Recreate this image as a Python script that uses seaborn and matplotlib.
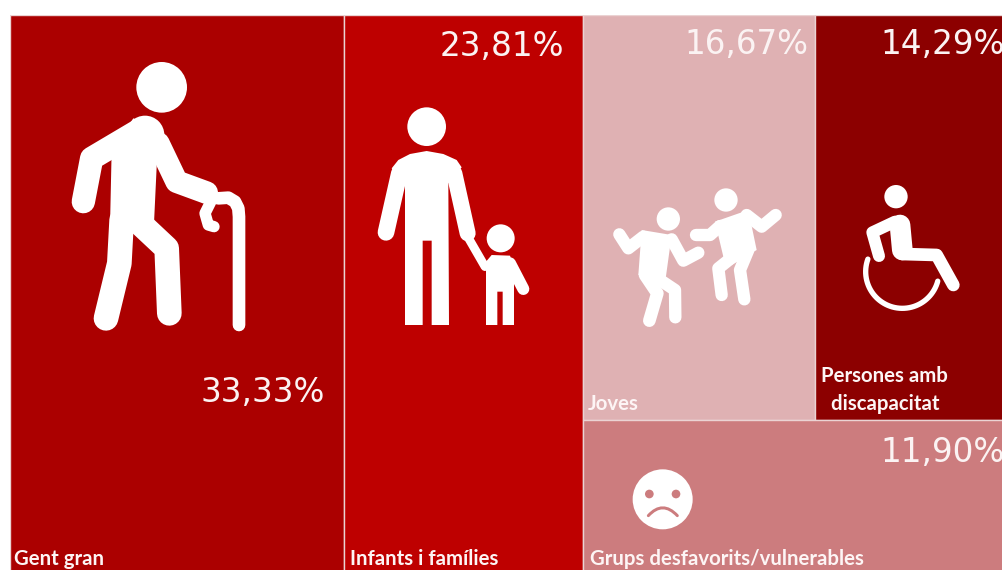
"""Treemap de col·lectius: rajoles calculades a partir dels percentatges."""
import numpy as np
import matplotlib
matplotlib.use('Agg')
import matplotlib.pyplot as plt
from matplotlib.patches import Circle, Polygon, PathPatch
from matplotlib.path import Path
import seaborn as sns

CATEGORIES = ['Gent gran', 'Infants i famílies', 'Joves',
              'Persones amb\n  discapacitat', 'Grups desfavorits/vulnerables']
VALUES = [33.33, 23.81, 16.67, 14.29, 11.90]
TILE_COLORS = ['#AB0000', '#BE0000', '#DFB1B3', '#8C0000', '#CC7C7E']

EDGE = '#EBD3D3'
WHITE = '#FFFFFF'
PX_PT = 0.72  # 1 px en punts a dpi 100

sns.set_theme(style='white')
fig = plt.figure(figsize=(10.03, 5.70), dpi=100, facecolor='white')

# --- rajoles: la imatge està retallada per la dreta i per baix ---
ax = fig.add_axes([10 / 1003, -6 / 570, 1002 / 1003, 561 / 570])
ax.set_xlim(0, 100)
ax.set_ylim(100, 0)
ax.axis('off')

palette = sns.color_palette(TILE_COLORS)
gent, infants, joves, persones, grups = VALUES
right_x = gent + infants
right_w = joves + persones + grups
top_h = 100 * (joves + persones) / right_w
joves_w = right_w * (joves / (joves + persones) + 0.004)

ax.bar(0, 100, gent, align='edge', color=palette[0], edgecolor=EDGE, linewidth=1)
ax.bar(gent, 100, infants, align='edge', color=palette[1], edgecolor=EDGE, linewidth=1)
ax.bar(right_x, top_h, joves_w, align='edge', color=palette[2], edgecolor=EDGE, linewidth=1)
ax.bar(right_x + joves_w, top_h, right_w - joves_w, align='edge', color=palette[3],
       edgecolor=EDGE, linewidth=1)
ax.bar(right_x, 100 - top_h, right_w, bottom=top_h, align='edge', color=palette[4],
       edgecolor=EDGE, linewidth=1)

# --- capa en píxels per a icones i textos ---
ov = fig.add_axes([0, 0, 1, 1])
ov.set_xlim(0, 1003)
ov.set_ylim(570, 0)
ov.axis('off')
ov.patch.set_alpha(0)


def limb(off, pts, w, color=WHITE):
    xs = [off[0] + p[0] / 3 for p in pts]
    ys = [off[1] + p[1] / 3 for p in pts]
    line, = ov.plot(xs, ys, color=color, lw=w / 3 * PX_PT, solid_capstyle='round',
                    solid_joinstyle='round')
    line.set_clip_on(False)


def head(off, c, r, color=WHITE):
    ov.add_patch(Circle((off[0] + c[0] / 3, off[1] + c[1] / 3), r / 3, fc=color, ec='none'))


def body(off, pts):
    ov.add_patch(Polygon([(off[0] + p[0] / 3, off[1] + p[1] / 3) for p in pts],
                         closed=True, fc=WHITE, ec='none'))


# Gent gran
o = (50, 50)
head(o, (335, 112), 76)
head(o, (285, 255), 58)
body(o, [(185, 300), (250, 205), (320, 230), (320, 350), (312, 520), (250, 545), (180, 530)])
limb(o, [(260, 245), (125, 325), (100, 455)], 70)
limb(o, [(215, 510), (208, 640), (168, 805)], 74)
limb(o, [(270, 520), (350, 595), (358, 790)], 74)
limb(o, [(325, 280), (380, 395), (470, 428)], 68)
limb(o, [(485, 450), (465, 490), (475, 525), (492, 530)], 34)
limb(o, [(505, 445), (535, 443), (555, 455), (565, 475), (567, 500), (567, 825)], 38)

# Infants i famílies
o = (360, 90)
head(o, (200, 110), 58)
body(o, [(95, 235), (115, 210), (150, 192), (200, 183), (250, 192), (290, 210), (305, 232), (265, 280),
         (267, 705), (215, 705), (215, 452), (188, 452), (188, 705), (135, 705), (135, 280)])
limb(o, [(118, 250), (78, 427)], 50)
limb(o, [(283, 250), (323, 430)], 48)
limb(o, [(323, 440), (375, 530)], 26)
head(o, (422, 445), 42)
body(o, [(378, 515), (395, 495), (450, 497), (462, 530), (462, 705), (428, 705), (428, 605), (412, 605),
         (412, 705), (378, 705)])
limb(o, [(450, 520), (490, 597)], 36)

# Joves
o = (600, 170)
head(o, (205, 147), 35)
body(o, [(125, 180), (215, 195), (195, 340), (115, 315)])
limb(o, [(130, 200), (85, 235), (58, 193)], 37)
limb(o, [(215, 208), (250, 272), (295, 248)], 37)
limb(o, [(135, 315), (172, 370), (148, 452)], 38)
limb(o, [(165, 320), (225, 360), (226, 442)], 37)
head(o, (378, 90), 35)
body(o, [(345, 155), (445, 120), (470, 240), (395, 285), (370, 260)])
limb(o, [(360, 168), (330, 195), (288, 195)], 37)
limb(o, [(440, 135), (485, 170), (527, 135)], 37)
limb(o, [(405, 255), (355, 295), (365, 375)], 37)
limb(o, [(445, 240), (420, 300), (433, 388)], 37)

# Persones amb discapacitat
o = (815, 170)
head(o, (243, 80), 35)
limb(o, [(255, 165), (262, 240)], 62)
limb(o, [(262, 252), (365, 255), (415, 345)], 38)
limb(o, [(240, 155), (172, 187), (192, 258)], 36)
t = np.radians(np.linspace(200, 15, 50))
limb(o, np.column_stack([262 + 110 * np.cos(t), 305 + 110 * np.sin(t)]), 16)

# Grups desfavorits/vulnerables
o = (580, 420)
head(o, (248, 238), 90)
head(o, (208, 222), 13, TILE_COLORS[4])
head(o, (288, 222), 13, TILE_COLORS[4])
mouth = Path([(o[0] + 205 / 3, o[1] + 287 / 3), (o[0] + 248 / 3, o[1] + 240 / 3), (o[0] + 292 / 3, o[1] + 287 / 3)],
             [Path.MOVETO, Path.CURVE3, Path.CURVE3])
ov.add_patch(PathPatch(mouth, fc='none', ec=TILE_COLORS[4], lw=3 * PX_PT, capstyle='round'))

# --- textos ---
pct_pos = [(325, 392), (564, 47), (808, 44), (1005, 44), (1005, 452)]
for val, (x, y) in zip(VALUES, pct_pos):
    ov.text(x, y, f'{val:.2f}%'.replace('.', ','), ha='right', va='center', color='#FBF3F3',
            fontsize=23.5, family='DejaVu Sans', clip_on=True)

label_pos = [(14, 559), (350, 559), (588, 404), (821, 390), (590, 559)]
for name, (x, y) in zip(CATEGORIES, label_pos):
    ov.text(x, y, name, ha='left', va='center', color='#FDF5F5', fontsize=14.7,
            family='Lato', fontweight='bold', linespacing=1.5)

fig.savefig('out.png', dpi=100, facecolor='white')
